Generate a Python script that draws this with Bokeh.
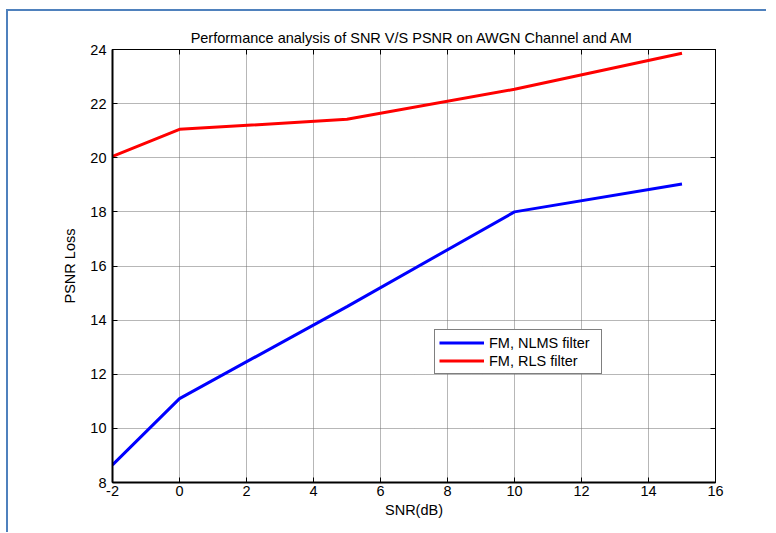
from bokeh.plotting import figure
from bokeh.models import (Range1d, LinearAxis, FixedTicker, Legend, LegendItem,
                          CustomJSTickFormatter)
from bokeh.embed import file_html
from bokeh.resources import INLINE

snr_db = [-2, 0, 5, 10, 15]
nlms_psnr = [8.65, 11.1, 14.5, 18.0, 19.03]
rls_psnr = [20.05, 21.05, 21.42, 22.53, 23.86]
x_ticks = [-2, 0, 2, 4, 6, 8, 10, 12, 14, 16]
y_ticks = [8, 10, 12, 14, 16, 18, 20, 22, 24]

FONT = "Liberation Sans"
FS = "14.5px"

p = figure(width=760, height=523, output_backend="svg", toolbar_location=None,
           x_range=Range1d(-2, 16), y_range=Range1d(8, 24),
           min_border_left=104, min_border_right=53, min_border_top=38, min_border_bottom=52,
           title="Performance analysis of SNR V/S PSNR on AWGN Channel and  AM")
p.styles = {"margin-left": "6px", "margin-top": "9px",
            "border-left": "2px solid #4f81bd", "border-top": "2px solid #4f81bd"}

p.title.align = "center"
p.title.text_font = FONT
p.title.text_font_size = FS
p.title.text_font_style = "normal"
p.title.text_color = "black"
p.title.offset = 0
p.title.standoff = 8

p.outline_line_color = "black"
p.outline_line_width = 1
p.background_fill_color = "white"
p.border_fill_color = "white"

for ax in (p.xaxis[0], p.yaxis[0]):
    ax.major_label_text_font = FONT
    ax.major_label_text_font_size = FS
    ax.major_label_text_color = "black"
    ax.axis_label_text_font = FONT
    ax.axis_label_text_font_size = FS
    ax.axis_label_text_font_style = "normal"
    ax.axis_label_text_color = "black"
    ax.major_tick_in = 5
    ax.major_tick_out = 0
    ax.minor_tick_line_color = None
    ax.axis_line_color = "black"
    ax.axis_line_width = 2
    ax.major_tick_line_color = "black"

p.xaxis[0].ticker = FixedTicker(ticks=x_ticks)
p.yaxis[0].ticker = FixedTicker(ticks=y_ticks)
p.xaxis[0].major_label_overrides = {t: str(t) for t in x_ticks}
p.yaxis[0].major_label_overrides = {t: str(t) for t in y_ticks}
p.xaxis[0].axis_label = "SNR(dB)"
p.yaxis[0].axis_label = "PSNR Loss"
p.xaxis[0].major_label_standoff = 3
p.yaxis[0].major_label_standoff = 6
p.xaxis[0].axis_label_standoff = 3
p.yaxis[0].axis_label_standoff = 9

top_ax = LinearAxis(ticker=FixedTicker(ticks=x_ticks), formatter=CustomJSTickFormatter(code="return ''"),
                    major_tick_in=5, major_tick_out=0, minor_tick_line_color=None,
                    axis_line_color="black", major_label_standoff=0)
right_ax = LinearAxis(ticker=FixedTicker(ticks=y_ticks), formatter=CustomJSTickFormatter(code="return ''"),
                      major_tick_in=5, major_tick_out=0, minor_tick_line_color=None,
                      axis_line_color="black", major_label_standoff=0)
p.add_layout(top_ax, "above")
p.add_layout(right_ax, "right")

p.xgrid.ticker = FixedTicker(ticks=x_ticks)
p.ygrid.ticker = FixedTicker(ticks=y_ticks)
for g in (p.xgrid[0], p.ygrid[0]):
    g.grid_line_color = "#6e6e6e"
    g.grid_line_dash = "1 1"
    g.grid_line_width = 1

r1 = p.line(snr_db, nlms_psnr, line_color="#0000ff", line_width=3)
r2 = p.line(snr_db, rls_psnr, line_color="#ff0000", line_width=3)

legend = Legend(items=[LegendItem(label="FM, NLMS filter", renderers=[r1]),
                       LegendItem(label="FM, RLS filter", renderers=[r2])],
                location=(322, 108))
legend.border_line_color = "black"
legend.border_line_width = 1
legend.background_fill_color = "white"
legend.background_fill_alpha = 1
legend.label_text_font = FONT
legend.label_text_font_size = FS
legend.label_text_color = "black"
legend.glyph_width = 45
legend.glyph_height = 17
legend.label_height = 17
legend.label_width = 108
legend.label_standoff = 5
legend.spacing = 1
legend.padding = 4
legend.margin = 0
p.add_layout(legend, "center")

open("out.html", "w").write(file_html(p, INLINE))
